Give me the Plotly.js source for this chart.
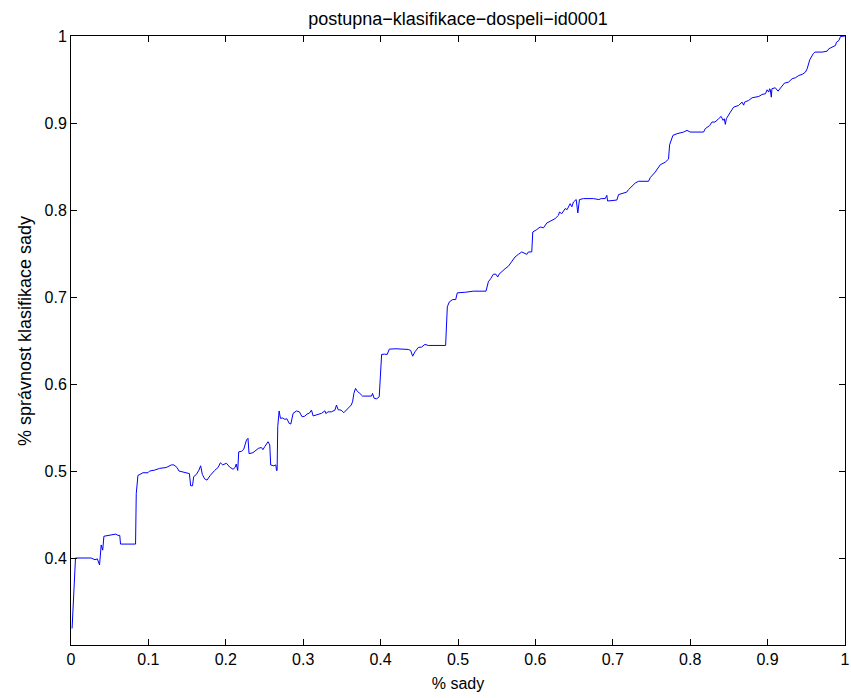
<!DOCTYPE html>
<html>
<head>
<meta charset="utf-8">
<script src="https://cdn.plot.ly/plotly-3.0.1.min.js"></script>
<style>html,body{margin:0;padding:0;background:#fff;}#chart{width:851px;height:698px;}</style>
</head>
<body>
<div id="chart"></div>
<script>
const chartTitle = "postupna\u2212klasifikace\u2212dospeli\u2212id0001";
const xLabel = "% sady";
const yLabel = "% správnost klasifikace sady";
const xTicks = [0, 0.1, 0.2, 0.3, 0.4, 0.5, 0.6, 0.7, 0.8, 0.9, 1];
const yTicks = [0.4, 0.5, 0.6, 0.7, 0.8, 0.9, 1];

const xs = [
0.0014,0.0058,0.026,0.031,0.034,0.0369,0.039,0.041,0.0425,0.050,0.058,0.0606,0.063,0.064,0.0834,0.0843,0.0865,0.089,0.093,0.0994,
0.1016,0.108,0.1145,0.123,0.1296,0.133,0.137,0.1395,0.1446,0.151,0.153,0.1546,0.157,0.1585,0.162,0.1653,0.1675,0.1697,0.1727,0.1757,
0.180,0.1856,0.190,0.1930,0.196,0.2008,0.205,0.2093,0.212,0.2135,0.2154,0.2167,0.220,0.2232,0.2267,0.2287,0.230,0.235,0.2396,0.242,
0.246,0.248,0.2503,0.2546,0.2568,0.258,0.262,0.2646,0.2655,0.2663,0.2671,0.2689,0.2706,0.273,0.2762,0.279,0.2818,0.284,0.287,0.2913,
0.295,0.2986,0.302,0.305,0.308,0.3107,0.3128,0.317,0.3237,0.328,0.3293,0.332,0.3366,0.341,0.343,0.3452,0.349,0.3525,0.356,0.3603,
0.362,0.3638,0.3655,0.3676,0.370,0.3732,0.3767,0.3883,0.3896,0.3917,0.395,0.3982,0.3995,0.4013,0.405,0.4086,0.4112,0.420,0.4357,0.4388,
0.4414,0.4444,0.4487,0.453,0.4573,0.4616,0.484,0.4862,0.4888,0.4932,0.497,0.4991,0.510,0.5198,0.5362,0.5392,0.5423,0.5457,0.549,0.5513,
0.553,0.5565,0.5608,0.5651,0.5695,0.5737,0.578,0.5824,0.5889,0.5910,0.5953,0.5966,0.6018,0.6061,0.6104,0.6148,0.619,0.6255,0.6298,0.6311,
0.634,0.6384,0.641,0.6449,0.6471,0.6492,0.6527,0.6548,0.6569,0.6621,0.675,0.682,0.685,0.6902,0.6923,0.6932,0.699,0.7053,0.7074,0.7138,
0.718,0.7203,0.7247,0.729,0.7333,0.7462,0.7484,0.7549,0.7613,0.7678,0.772,0.7734,0.7777,0.783,0.7915,0.7959,0.800,0.8173,0.8195,0.825,
0.8282,0.832,0.8368,0.8399,0.8425,0.844,0.8454,0.8467,0.8519,0.8562,0.8626,0.867,0.869,0.8703,0.8756,0.88,0.8886,0.8929,0.8972,0.8994,
0.9015,0.9026,0.9035,0.9048,0.9056,0.9099,0.9134,0.9217,0.927,0.9317,0.936,0.9403,0.945,0.9489,0.9511,0.9545,0.9589,0.961,0.9705,0.977,
0.9791,0.9835,0.9877,0.9890,0.9921,0.9942,0.9985,1.0
];
const ys = [
0.319,0.400,0.400,0.398,0.399,0.392,0.415,0.409,0.425,0.426,0.4275,0.426,0.426,0.416,0.416,0.474,0.495,0.496,0.498,0.498,
0.500,0.501,0.503,0.504,0.507,0.507,0.504,0.500,0.499,0.498,0.497,0.483,0.483,0.4935,0.496,0.501,0.506,0.496,0.491,0.4895,
0.495,0.5006,0.504,0.5095,0.507,0.5089,0.5045,0.502,0.504,0.508,0.5006,0.522,0.5225,0.525,0.5356,0.5376,0.520,0.521,0.524,0.526,
0.527,0.5245,0.528,0.5336,0.530,0.5069,0.506,0.507,0.5006,0.5006,0.551,0.569,0.5605,0.561,0.5594,0.560,0.5548,0.554,0.5663,0.569,
0.568,0.5623,0.563,0.5655,0.5665,0.570,0.5633,0.5645,0.5663,0.5692,0.566,0.568,0.568,0.570,0.5758,0.5704,0.570,0.567,0.570,0.574,
0.5758,0.5796,0.5892,0.595,0.5915,0.5892,0.5861,0.5861,0.5892,0.5835,0.583,0.5853,0.608,0.634,0.6343,0.634,0.6401,0.6405,0.6397,0.6386,
0.632,0.637,0.642,0.6425,0.6455,0.6443,0.6443,0.6887,0.6944,0.6971,0.697,0.7048,0.7055,0.7067,0.7067,0.7174,0.7212,0.7262,0.7262,0.723,
0.7262,0.7296,0.7325,0.7354,0.7403,0.746,0.749,0.7518,0.749,0.7518,0.7518,0.7747,0.7775,0.7805,0.7795,0.7851,0.7870,0.7901,0.7939,0.7977,
0.7958,0.8016,0.8005,0.8073,0.8037,0.8092,0.812,0.7966,0.812,0.8131,0.8131,0.812,0.8131,0.8131,0.8169,0.8104,0.8108,0.8115,0.8177,0.8196,
0.8206,0.8234,0.8272,0.831,0.833,0.833,0.8372,0.8437,0.852,0.855,0.8585,0.875,0.8858,0.8877,0.8896,0.8915,0.8896,0.8896,0.8935,0.897,
0.9011,0.9011,0.9049,0.9076,0.9030,0.9049,0.8984,0.9049,0.9125,0.9183,0.9202,0.924,0.9205,0.924,0.926,0.929,0.9305,0.9328,0.9336,0.9382,
0.9355,0.9394,0.9382,0.9297,0.9394,0.9405,0.9366,0.9458,0.947,0.9509,0.952,0.9546,0.956,0.9585,0.9623,0.9727,0.9796,0.9815,0.9815,0.9826,
0.9853,0.987,0.9891,0.9929,0.9948,0.9994,1.0,1.0
];

const font = "Liberation Sans, Arial, Helvetica, sans-serif";

const trace = {
  x: xs, y: ys, type: "scatter", mode: "lines",
  line: {color: "#0000ff", width: 1},
  hoverinfo: "skip"
};

const axisCommon = {
  showline: true, linecolor: "#000", linewidth: 1,
  mirror: "ticks", ticks: "inside", ticklen: 6, tickcolor: "#000", tickwidth: 1,
  showgrid: false, zeroline: false,
  tickfont: {family: font, size: 16, color: "#000"}
};

const layout = {
  width: 851, height: 698,
  margin: {l: 71, r: 6, t: 36, b: 53, pad: 0},
  paper_bgcolor: "#fff", plot_bgcolor: "#fff",
  showlegend: false,
  title: {text: chartTitle, font: {family: font, size: 18, color: "#000"},
          x: 0.5, xref: "paper", y: 1 - 19/698, yref: "container", yanchor: "middle"},
  xaxis: Object.assign({}, axisCommon, {
    range: [0, 1], tickmode: "array", tickvals: xTicks, ticktext: xTicks.map(String),
    title: {text: xLabel, font: {family: font, size: 16, color: "#000"}, standoff: 10}
  }),
  yaxis: Object.assign({}, axisCommon, {
    range: [0.3, 1], tickmode: "array", tickvals: yTicks, ticktext: yTicks.map(String)
  }),
  annotations: [{
    text: yLabel, textangle: -90, showarrow: false,
    xref: "paper", yref: "paper", x: (25 - 71) / 774, y: (645 - 331) / 609,
    xanchor: "center", yanchor: "middle",
    font: {family: font, size: 18, color: "#000"}
  }]
};

Plotly.newPlot("chart", [trace], layout, {displayModeBar: false, staticPlot: true});
</script>
</body>
</html>
